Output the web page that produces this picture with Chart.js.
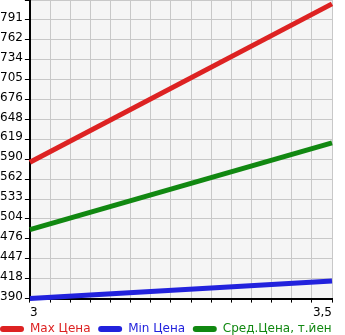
<!DOCTYPE html>
<html>
<head>
<meta charset="utf-8">
<script src="https://cdn.jsdelivr.net/npm/chart.js@4/dist/chart.umd.min.js"></script>
<style>
html,body{margin:0;padding:0;background:#fff;}
#wrap{width:345px;height:335px;position:relative;}
</style>
</head>
<body>
<div id="wrap"><canvas id="c"></canvas></div>
<script>
const xValues = [3, 3.5];
const xTickLabels = {3: '3', 3.5: '3,5'};
const maxPrice = [586, 814];
const minPrice = [390, 415];
const avgPrice = [489, 614];
const yTickLabels = ['390','418','447','476','504','533','562','590','619','648','676','705','734','762','791'];
const seriesNames = ['Max Цена', 'Min Цена', 'Сред.Цена, т.йен'];
const seriesColors = ['#dd2222', '#2222dd', '#118811'];

const yMin = 389.8, yStep = 28.65, yMax = yMin + 15 * yStep;

function pts(vals){ return vals.map((v,i)=>({x:xValues[i], y:v})); }

const plotBg = {
  id:'plotBg',
  beforeDraw(chart){
    const {ctx, chartArea:a} = chart;
    ctx.save();
    ctx.fillStyle = '#f5f5f5';
    ctx.fillRect(a.left, a.top, a.right-a.left, a.bottom-a.top);
    ctx.restore();
  }
};

const series = [maxPrice, minPrice, avgPrice];
new Chart(document.getElementById('c'), {
  type:'line',
  data:{
    datasets: series.map((s,i)=>({
      label: seriesNames[i],
      data: pts(s),
      borderColor: seriesColors[i],
      backgroundColor: seriesColors[i],
      borderWidth: 5,
      pointRadius: 0,
      fill:false,
      tension:0,
      clip:false
    }))
  },
  options:{
    responsive:true,
    maintainAspectRatio:false,
    animation:false,
    layout:{padding:{top:0,right:13,left:0,bottom:-10}},
    font:{family:'DejaVu Sans', size:12},
    plugins:{
      tooltip:{enabled:false},
      legend:{
        position:'bottom',
        align:'start',
        labels:{
          font:{family:'DejaVu Sans', size:12},
          boxWidth:24,
          boxHeight:6,
          useBorderRadius:true,
          borderRadius:3,
          padding:0,
          generateLabels(chart){
            return chart.data.datasets.map((d,i)=>({
              text: i < chart.data.datasets.length-1 ? d.label + '\u00a0\u00a0' : d.label,
              fillStyle:seriesColors[i],
              strokeStyle:seriesColors[i],
              lineWidth:0,
              fontColor:seriesColors[i],
              datasetIndex:i,
              hidden:false,
              borderRadius:3
            }));
          }
        }
      }
    },
    scales:{
      x:{
        type:'linear',
        min:3,
        max:3.5,
        ticks:{
          stepSize:0.5/15,
          autoSkip:false,
          maxRotation:0,
          align:'inner',
          color:'#000',
          font:{family:'DejaVu Sans', size:12},
          padding:3,
          callback(v){
            for (const k in xTickLabels){ if (Math.abs(v-Number(k))<1e-6) return xTickLabels[k]; }
            return '';
          }
        },
        grid:{color:'#c8c8c8', lineWidth:1, tickLength:4, tickColor:'#000'},
        border:{color:'#000', width:2}
      },
      y:{
        type:'linear',
        min:yMin,
        max:yMax,
        afterFit(scale){ scale.paddingTop = 0; },
        ticks:{
          stepSize:yStep,
          autoSkip:false,
          color:'#000',
          font:{family:'DejaVu Sans', size:12},
          padding:1,
          crossAlign:'far',
          labelOffset:-2,
          callback(v, i){ return yTickLabels[i] !== undefined ? yTickLabels[i] : ''; }
        },
        grid:{color:'#c8c8c8', lineWidth:1, tickLength:5, tickColor:'#000'},
        border:{color:'#000', width:2}
      }
    }
  },
  plugins:[plotBg]
});
</script>
</body>
</html>
